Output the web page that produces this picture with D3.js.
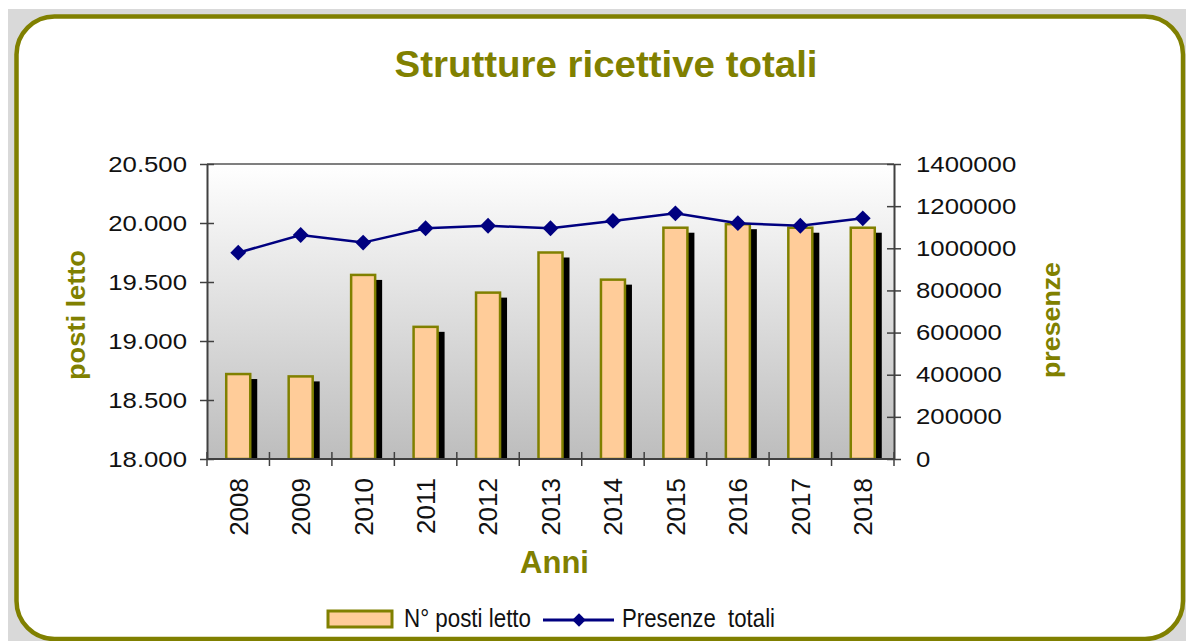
<!DOCTYPE html>
<html>
<head>
<meta charset="utf-8">
<script src="https://cdn.jsdelivr.net/npm/d3@7"></script>
<style>
    body { margin: 0; background: #fff; }
    svg { display: block; font-family: "Liberation Sans", Arial, sans-serif; }
</style>
</head>
<body>
<div id="chart"></div>
<script>
const years = ["2008", "2009", "2010", "2011", "2012", "2013", "2014", "2015", "2016", "2017", "2018"];
const postiLetto = [18720, 18700, 19560, 19120, 19410, 19750, 19520, 19960, 19990, 19960, 19960];
const presenze = [979000, 1063000, 1027000, 1095000, 1107000, 1095000, 1130000, 1166000, 1119000, 1107000, 1142000];
const leftTicks = [18000, 18500, 19000, 19500, 20000, 20500];
const rightTicks = [0, 200000, 400000, 600000, 800000, 1000000, 1200000, 1400000];

const W = 1186, H = 641;
const olive = "#808000", navy = "#000080";
const plot = { left: 207, right: 894, top: 164, bottom: 459 };

const itFormat = d3.formatLocale({ decimal: ",", thousands: ".", grouping: [3], currency: ["€", ""] }).format(",.0f");

// stretch text horizontally to mimic the wide glyphs in the picture
function stretch(sel, k) {
    sel.each(function () {
        const w = this.getComputedTextLength();
        d3.select(this).attr("textLength", w * k).attr("lengthAdjust", "spacingAndGlyphs");
    });
}

const svg = d3.select("#chart").append("svg").attr("width", W).attr("height", H);

// frame
svg.append("rect").attr("x", 8).attr("y", 9).attr("width", W - 8).attr("height", H - 9).attr("fill", "#d9d9d9");
svg.append("rect")
    .attr("x", 16.5).attr("y", 16.5)
    .attr("width", 1183 - 16.5).attr("height", 639 - 16.5)
    .attr("rx", 38).attr("ry", 38)
    .attr("fill", "#fff").attr("stroke", olive).attr("stroke-width", 4.5);

const defs = svg.append("defs");
const grad = defs.append("linearGradient").attr("id", "bg").attr("x1", 0).attr("y1", 0).attr("x2", 0).attr("y2", 1);
grad.append("stop").attr("offset", 0).attr("stop-color", "#ffffff");
grad.append("stop").attr("offset", 1).attr("stop-color", "#bdbdbd");
defs.append("clipPath").attr("id", "clip").append("rect")
    .attr("x", plot.left).attr("y", plot.top)
    .attr("width", plot.right - plot.left).attr("height", plot.bottom - plot.top);

const x = d3.scaleBand().domain(years).range([plot.left, plot.right]);
const yL = d3.scaleLinear().domain([18000, 20500]).range([plot.bottom, plot.top]);
const yR = d3.scaleLinear().domain([0, 1400000]).range([plot.bottom, plot.top]);

svg.append("rect")
    .attr("x", plot.left).attr("y", plot.top)
    .attr("width", plot.right - plot.left).attr("height", plot.bottom - plot.top)
    .attr("fill", "url(#bg)");
svg.append("line")
    .attr("x1", plot.left).attr("x2", plot.right).attr("y1", plot.top).attr("y2", plot.top)
    .attr("stroke", "#555").attr("stroke-width", 1.5);

// bars with shadow
const barW = 24, sh = { dx: 7, dy: 5 };
const bars = svg.append("g").attr("clip-path", "url(#clip)");
bars.selectAll(".shadow").data(years).enter().append("rect")
    .attr("x", (d) => x(d) + x.bandwidth() / 2 - barW / 2 + sh.dx)
    .attr("y", (d, i) => yL(postiLetto[i]) + sh.dy)
    .attr("width", barW)
    .attr("height", (d, i) => plot.bottom - yL(postiLetto[i]))
    .attr("fill", "#000");
bars.selectAll(".bar").data(years).enter().append("rect")
    .attr("x", (d) => x(d) + x.bandwidth() / 2 - barW / 2)
    .attr("y", (d, i) => yL(postiLetto[i]))
    .attr("width", barW)
    .attr("height", (d, i) => plot.bottom - yL(postiLetto[i]))
    .attr("fill", "#FFCC99").attr("stroke", olive).attr("stroke-width", 2.5);

// axes
const axisColor = "#404040";
const gL = svg.append("g").attr("transform", `translate(${plot.left},0)`)
    .call(d3.axisLeft(yL).tickValues(leftTicks).tickFormat(itFormat).tickSize(7).tickSizeOuter(0).tickPadding(13));
gL.selectAll(".tick line").attr("x1", 7).attr("x2", -7);
const gR = svg.append("g").attr("transform", `translate(${plot.right},0)`)
    .call(d3.axisRight(yR).tickValues(rightTicks).tickFormat(d3.format("d")).tickSize(7).tickSizeOuter(0).tickPadding(15));
gR.selectAll(".tick line").attr("x1", -7).attr("x2", 7);
[gL, gR].forEach((g) => {
    g.select(".domain").attr("stroke", axisColor).attr("stroke-width", 2);
    g.selectAll(".tick line").attr("stroke", axisColor).attr("stroke-width", 1.5);
    g.selectAll("text").attr("font-size", 22).attr("fill", "#111").attr("font-family", null);
    stretch(g.selectAll("text"), 1.17);
});

const gB = svg.append("g").attr("transform", `translate(0,${plot.bottom})`);
gB.append("line").attr("x1", plot.left).attr("x2", plot.right).attr("stroke", axisColor).attr("stroke-width", 2);
gB.selectAll(".tk").data(years.map((d) => x(d)).concat([plot.right])).enter().append("line")
    .attr("x1", (d) => d).attr("x2", (d) => d).attr("y1", -7).attr("y2", 7)
    .attr("stroke", axisColor).attr("stroke-width", 1.5);
gB.selectAll(".yr").data(years).enter().append("text")
    .attr("transform", (d) => `translate(${x(d) + x.bandwidth() / 2},19) rotate(-90)`)
    .attr("dy", "0.36em")
    .attr("text-anchor", "end")
    .attr("font-size", 26).attr("fill", "#111")
    .text((d) => d);

// line series
const line = d3.line().x((d, i) => x(years[i]) + x.bandwidth() / 2).y((d) => yR(d));
svg.append("path").datum(presenze).attr("d", line)
    .attr("fill", "none").attr("stroke", navy).attr("stroke-width", 2.5);
const diamond = d3.symbol().type(d3.symbolSquare).size(125);
svg.selectAll(".pt").data(presenze).enter().append("path")
    .attr("d", diamond)
    .attr("transform", (d, i) => `translate(${x(years[i]) + x.bandwidth() / 2},${yR(d)}) rotate(45)`)
    .attr("fill", navy);

// titles
svg.append("text").attr("x", 606).attr("y", 77).attr("text-anchor", "middle")
    .attr("font-size", 36).attr("font-weight", "bold").attr("fill", olive)
    .attr("textLength", 423).attr("lengthAdjust", "spacingAndGlyphs")
    .text("Strutture ricettive totali");
svg.append("text").attr("x", 554.5).attr("y", 573).attr("text-anchor", "middle")
    .attr("font-size", 31).attr("font-weight", "bold").attr("fill", olive)
    .text("Anni");
svg.append("text").attr("transform", "translate(76,315) rotate(-90)").attr("dy", "0.35em")
    .attr("text-anchor", "middle")
    .attr("font-size", 26).attr("font-weight", "bold").attr("fill", olive)
    .attr("textLength", 130).attr("lengthAdjust", "spacingAndGlyphs")
    .text("posti letto");
svg.append("text").attr("transform", "translate(1051,320) rotate(-90)").attr("dy", "0.35em")
    .attr("text-anchor", "middle")
    .attr("font-size", 26).attr("font-weight", "bold").attr("fill", olive)
    .attr("textLength", 116).attr("lengthAdjust", "spacingAndGlyphs")
    .text("presenze");

// legend
const lg = svg.append("g");
lg.append("rect").attr("x", 328).attr("y", 611).attr("width", 64).attr("height", 16)
    .attr("fill", "#FFCC99").attr("stroke", olive).attr("stroke-width", 3);
lg.append("text").attr("x", 404).attr("y", 627).attr("font-size", 25).attr("fill", "#111")
    .attr("textLength", 127).attr("lengthAdjust", "spacingAndGlyphs")
    .text("N° posti letto");
lg.append("line").attr("x1", 543).attr("x2", 614).attr("y1", 620).attr("y2", 620)
    .attr("stroke", navy).attr("stroke-width", 3);
lg.append("path").attr("d", d3.symbol().type(d3.symbolSquare).size(90))
    .attr("transform", "translate(579,620) rotate(45)").attr("fill", navy);
lg.append("text").attr("x", 622).attr("y", 627).attr("font-size", 25).attr("fill", "#111")
    .attr("textLength", 153).attr("lengthAdjust", "spacingAndGlyphs")
    .attr("xml:space", "preserve").style("white-space", "pre")
    .text("Presenze  totali");
</script>
</body>
</html>
